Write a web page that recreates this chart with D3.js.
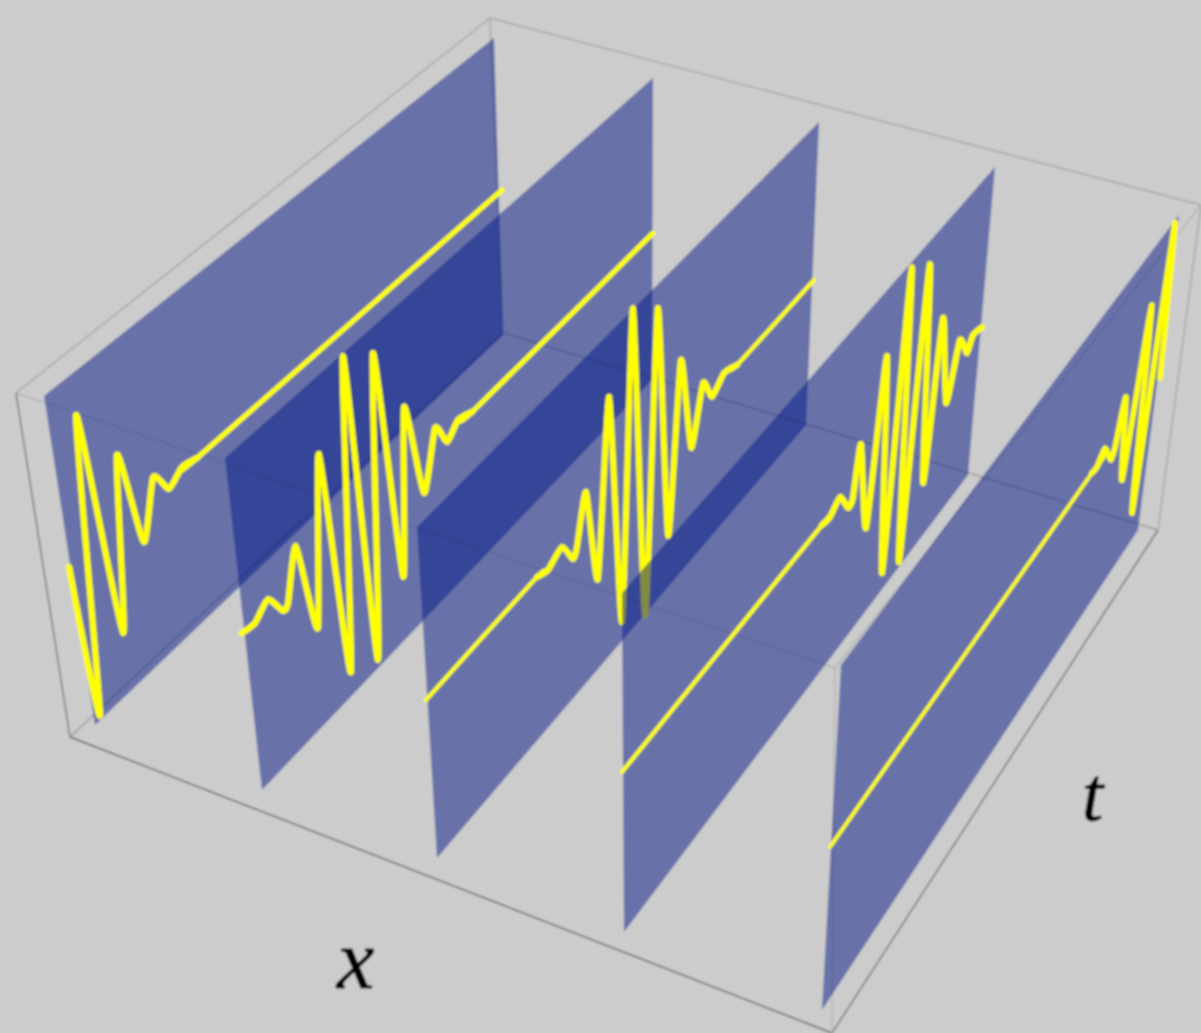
<!DOCTYPE html>
<html>
<head>
<meta charset="utf-8">
<script src="https://cdn.jsdelivr.net/npm/d3@7"></script>
<style>
  html, body { margin: 0; padding: 0; background: #cccccc; }
  svg { display: block; }
</style>
</head>
<body>
<div id="chart"></div>
<script>
// wave: t runs 0-100 along the slice, z is -1..1 up the slice
const t1 = [-0.3, 1.4, 5.8, 8.9, 12.9, 16.0, 19.8, 22.8, 26.1, 29.5, 100.8];
const z1 = [-0.032, -0.972, 0.757, -0.649, 0.352, -0.256, 0.059, -0.085, -0.026, -0.049, -0.043];
const t2 = [-0.6, 2.6, 6.0, 9.1, 10.4, 13.4, 16.6, 20.4, 23.3, 27.5, 29.9, 34.1, 37.3, 40.2, 43.5, 47.0, 49.6, 52.4, 55.8, 100.1];
const z2 = [-0.041, -0.055, 0.007, -0.139, -0.122, 0.152, -0.426, 0.548, -0.862, 0.984, -0.954, 0.846, -0.624, 0.364, -0.256, 0.066, -0.087, -0.019, -0.053, -0.030];
const t3 = [-0.4, 28.5, 31.3, 35.0, 37.7, 38.8, 41.4, 44.0, 47.6, 50.2, 53.7, 56.4, 59.9, 62.6, 65.8, 68.6, 71.6, 74.0, 77.1, 80.5, 100.5];
const z3 = [-0.036, -0.024, -0.054, -0.007, -0.153, -0.107, 0.170, -0.446, 0.606, -0.882, 1.009, -1.013, 0.849, -0.674, 0.363, -0.275, 0.062, -0.093, -0.022, -0.063, -0.056];
const t4 = [-0.3, 55.6, 57.9, 60.6, 63.1, 64.4, 66.0, 68.9, 72.2, 74.7, 77.8, 79.8, 83.0, 85.7, 88.1, 91.0, 93.8, 96.3, 97.7, 100.3];
const z4 = [-0.048, -0.050, -0.062, -0.012, -0.151, -0.126, 0.171, -0.438, 0.555, -0.888, 0.964, -0.967, 0.842, -0.633, 0.357, -0.273, 0.054, -0.102, -0.026, -0.048];
const t5 = [-0.3, 79.9, 81.5, 83.6, 86.3, 87.3, 89.1, 91.4, 94.4, 96.8, 98.9, 100.8];
const z5 = [-0.046, -0.044, -0.053, 0.004, -0.151, -0.096, 0.165, -0.424, 0.590, -0.795, 0.980, -0.060];
const seriesT = [t1, t2, t3, t4, t5];
const seriesZ = [z1, z2, z3, z4, z5];
const axisLabels = ["x", "t"];

function chartConfig() {
  let config = {
    width: 1201,
    height: 1033,
    background: "#cccccc",
    panelColor: "rgb(3,23,134)",
    panelOpacity: 0.5,
    curveColor: "#ffff00",
    curveWidths: [5, 5, 4.2, 4.2, 3.8],
    packetWidths: [6.2, 6.2, 6, 6, 5.5],
    // near top, far top, far bottom, near bottom of each slice on screen
    panels: [
      [[44, 396], [494, 38], [503, 335], [95, 725]],
      [[225, 458], [653, 78], [652, 380], [262, 790]],
      [[417, 527], [819, 122], [806, 425], [437, 858]],
      [[622, 593], [995, 167], [968, 475], [624, 932]],
      [[841, 665], [1179, 215], [1138, 530], [822, 1010]]
    ],
    box: {
      topLeft: [16, 393], topFar: [490, 18], topRight: [1201, 205], topNear: [835, 668],
      botLeft: [70, 737], botFar: [503, 333], botRight: [1158, 530], botNear: [832, 1033]
    }
  };
  config.svg = d3.select("#chart").append("svg")
    .attr("width", config.width)
    .attr("height", config.height);
  return config;
}

let cfg = chartConfig();
let tScale = d3.scaleLinear().domain([0, 100]).range([0, 1]);
let zScale = d3.scaleLinear().domain([1, -1]).range([0, 1]);

function project(corners, t, z) {
  let top = d3.interpolate(corners[0], corners[1])(tScale(t));
  let bottom = d3.interpolate(corners[3], corners[2])(tScale(t));
  return d3.interpolate(top, bottom)(zScale(z));
}

// the picture is soft, a small blur keeps edges the same
cfg.svg.append("filter").attr("id", "soft")
  .append("feGaussianBlur").attr("stdDeviation", 0.9);

let root = cfg.svg.append("g").attr("filter", "url(#soft)");

root.append("rect")
  .attr("width", cfg.width)
  .attr("height", cfg.height)
  .attr("fill", cfg.background);

const b = cfg.box;
const boxEdges = [
  [b.topLeft, b.topFar, "#a4a4a4"], [b.topFar, b.topRight, "#a4a4a4"], [b.topRight, b.topNear, "#b4b4b4"], [b.topNear, b.topLeft, "#b4b4b4"],
  [b.botLeft, b.botFar, "#999999"], [b.botFar, b.botRight, "#9a9a9a"], [b.botRight, b.botNear, "#707070"], [b.botNear, b.botLeft, "#606060"],
  [b.topLeft, b.botLeft, "#707070"], [b.topFar, b.botFar, "#a4a4a4"], [b.topRight, b.botRight, "#a4a4a4"], [b.topNear, b.botNear, "#b4b4b4"]
];

root.selectAll("line.edge")
  .data(boxEdges)
  .enter()
  .append("line")
  .attr("class", "edge")
  .attr("x1", d => d[0][0])
  .attr("y1", d => d[0][1])
  .attr("x2", d => d[1][0])
  .attr("y2", d => d[1][1])
  .attr("stroke", d => d[2])
  .attr("stroke-width", 1.4);

let waveLine = d3.line()
  .x(d => d[0])
  .y(d => d[1])
  .curve(d3.curveCardinal.tension(0.45));

function drawWave(pts, width) {
  root.append("path")
    .attr("d", waveLine(pts))
    .attr("fill", "none")
    .attr("stroke", cfg.curveColor)
    .attr("stroke-width", width)
    .attr("stroke-linejoin", "round")
    .attr("stroke-linecap", "round");
}

cfg.panels.forEach((corners, i) => {
  root.append("path")
    .attr("d", d3.line()(corners) + "Z")
    .attr("fill", cfg.panelColor)
    .attr("fill-opacity", cfg.panelOpacity);

  let pts = seriesT[i].map((t, k) => project(corners, t, seriesZ[i][k]));
  drawWave(pts, cfg.curveWidths[i]);
  // the packet reads heavier than the flat run, flat runs are the long gaps in t
  let packet = pts.filter((p, k) => {
    let gapBefore = k > 0 && seriesT[i][k] - seriesT[i][k - 1] > 10;
    let gapAfter = k < pts.length - 1 && seriesT[i][k + 1] - seriesT[i][k] > 10;
    return !(gapBefore && k === pts.length - 1) && !(gapAfter && k === 0);
  });
  drawWave(packet, cfg.packetWidths[i]);
});

root.selectAll("text.label")
  .data(axisLabels)
  .enter()
  .append("text")
  .attr("class", "label")
  .attr("x", (d, i) => [337, 1082][i])
  .attr("y", (d, i) => [988, 820][i])
  .attr("font-family", "'Liberation Serif', serif")
  .attr("font-style", "italic")
  .attr("font-size", (d, i) => [84, 76][i])
  .attr("fill", "#000000")
  .attr("stroke", "#000000")
  .attr("stroke-width", 1)
  .text(d => d);
</script>
</body>
</html>
